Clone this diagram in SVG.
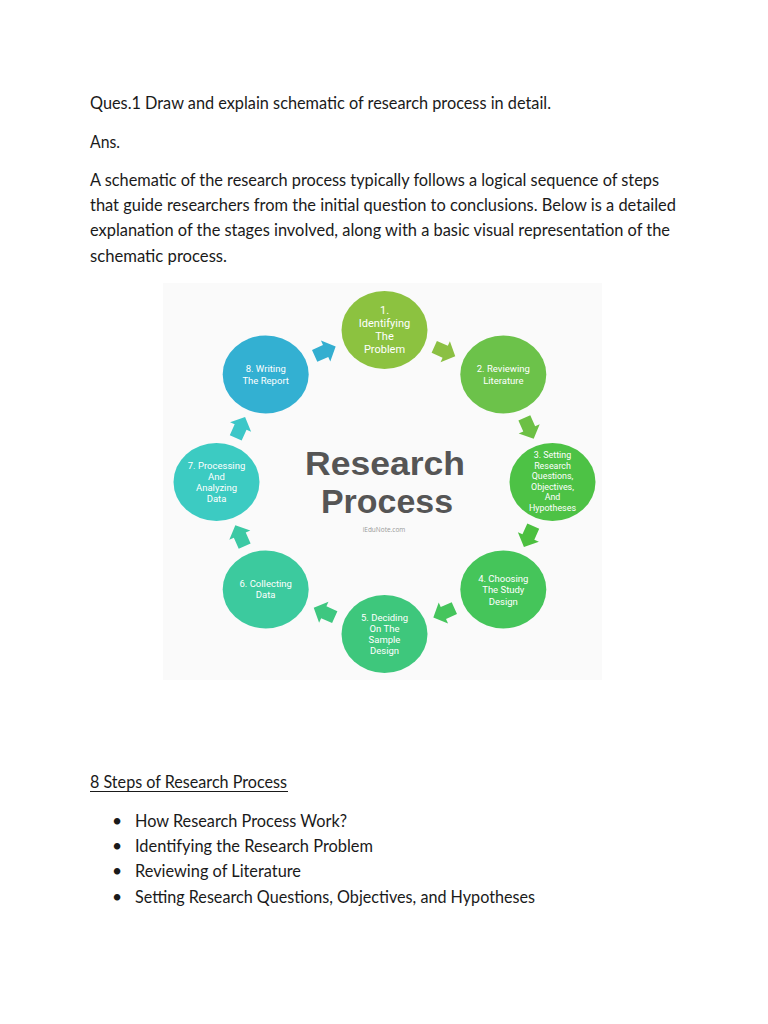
<svg xmlns="http://www.w3.org/2000/svg" width="768" height="1024" viewBox="0 0 768 1024">
<style>
.doc{font-family:Lato,"Open Sans","Liberation Sans",sans-serif;font-size:17.5px;fill:#1a1a1a}
.lbl{font-family:Roboto,"Liberation Sans",sans-serif;fill:#ffffff;text-anchor:middle}
.title{font-family:"Liberation Sans",Arial,sans-serif;font-weight:bold;font-size:33.5px;fill:#555555;text-anchor:middle}
</style>
<defs>
<polygon id="arr" points="-11,-6.5 1,-6.5 1,-11.5 12,0 1,11.5 1,6.5 -11,6.5"/>
</defs>
<rect width="768" height="1024" fill="#ffffff"/>

<g id="text-top" class="doc">
<text x="90" y="109" textLength="461" lengthAdjust="spacingAndGlyphs">Ques.1 Draw and explain schematic of research process in detail.</text>
<text x="90" y="148" textLength="30" lengthAdjust="spacingAndGlyphs">Ans.</text>
<text x="90" y="186" textLength="569" lengthAdjust="spacingAndGlyphs">A schematic of the research process typically follows a logical sequence of steps</text>
<text x="90" y="211" textLength="586" lengthAdjust="spacingAndGlyphs">that guide researchers from the initial question to conclusions. Below is a detailed</text>
<text x="90" y="236" textLength="580" lengthAdjust="spacingAndGlyphs">explanation of the stages involved, along with a basic visual representation of the</text>
<text x="90" y="262" textLength="137" lengthAdjust="spacingAndGlyphs">schematic process.</text>
</g>

<rect x="163" y="283" width="439" height="397" fill="#fafafa"/>

<g id="center-title">
<text class="title" x="385" y="475" textLength="160" lengthAdjust="spacingAndGlyphs">Research</text>
<text class="title" x="387" y="513" textLength="132" lengthAdjust="spacingAndGlyphs">Process</text>
<text x="384" y="532" font-family="'Open Sans','Liberation Sans',sans-serif" font-size="6.5" fill="#999999" text-anchor="middle">iEduNote.com</text>
</g>

<g id="connectors">
<use href="#arr" fill="#33aed0" transform="translate(324.7,351.4) rotate(-24)"/>
<use href="#arr" fill="#8bc043" transform="translate(444.3,351.4) rotate(24)"/>
<use href="#arr" fill="#6cc044" transform="translate(528.8,427.9) rotate(66)"/>
<use href="#arr" fill="#4cc040" transform="translate(528.8,536.1) rotate(114)"/>
<use href="#arr" fill="#45c55c" transform="translate(444.3,612.6) rotate(156)"/>
<use href="#arr" fill="#3ec780" transform="translate(324.7,612.6) rotate(204)"/>
<use href="#arr" fill="#3cc9a4" transform="translate(240.2,536.1) rotate(246)"/>
<use href="#arr" fill="#3cc7c8" transform="translate(240.2,427.9) rotate(294)"/>
</g>

<g id="node1">
<ellipse cx="384.5" cy="330" rx="43" ry="39" fill="#8cc240"/>
<text class="lbl" font-size="11"><tspan x="384.5" y="314">1.</tspan><tspan x="384.5" y="327">Identifying</tspan><tspan x="384.5" y="340">The</tspan><tspan x="384.5" y="353">Problem</tspan></text>
</g>
<g id="node2">
<ellipse cx="503.3" cy="374.5" rx="43" ry="39" fill="#6cc24a"/>
<text class="lbl" font-size="9.5"><tspan x="503.3" y="372.3">2. Reviewing</tspan><tspan x="503.3" y="383.5">Literature</tspan></text>
</g>
<g id="node3">
<ellipse cx="552.5" cy="482" rx="43" ry="39" fill="#4dc245"/>
<text class="lbl" font-size="8.9"><tspan x="552.5" y="458">3. Setting</tspan><tspan x="552.5" y="468.6">Research</tspan><tspan x="552.5" y="479.2">Questions,</tspan><tspan x="552.5" y="489.8">Objectives,</tspan><tspan x="552.5" y="500.4">And</tspan><tspan x="552.5" y="511">Hypotheses</tspan></text>
</g>
<g id="node4">
<ellipse cx="503.3" cy="589.5" rx="43" ry="39" fill="#45c55a"/>
<text class="lbl" font-size="9.5"><tspan x="503.3" y="582.1">4. Choosing</tspan><tspan x="503.3" y="593.3">The Study</tspan><tspan x="503.3" y="604.5">Design</tspan></text>
</g>
<g id="node5">
<ellipse cx="384.5" cy="634" rx="43" ry="39" fill="#3ec77c"/>
<text class="lbl" font-size="9.5"><tspan x="384.5" y="620.5">5. Deciding</tspan><tspan x="384.5" y="631.7">On The</tspan><tspan x="384.5" y="642.9">Sample</tspan><tspan x="384.5" y="654.1">Design</tspan></text>
</g>
<g id="node6">
<ellipse cx="265.7" cy="589.5" rx="43" ry="39" fill="#3cca9e"/>
<text class="lbl" font-size="9.5"><tspan x="265.7" y="587.2">6. Collecting</tspan><tspan x="265.7" y="598.4">Data</tspan></text>
</g>
<g id="node7">
<ellipse cx="216.5" cy="482" rx="43" ry="39" fill="#3ccbc2"/>
<text class="lbl" font-size="9.5"><tspan x="216.5" y="468.7">7. Processing</tspan><tspan x="216.5" y="479.9">And</tspan><tspan x="216.5" y="491.1">Analyzing</tspan><tspan x="216.5" y="502.3">Data</tspan></text>
</g>
<g id="node8">
<ellipse cx="265.7" cy="374.5" rx="43" ry="39" fill="#33b0d2"/>
<text class="lbl" font-size="9.5"><tspan x="265.7" y="372.3">8. Writing</tspan><tspan x="265.7" y="383.5">The Report</tspan></text>
</g>

<g id="text-bottom" class="doc">
<text x="90" y="788" textLength="197" lengthAdjust="spacingAndGlyphs">8 Steps of Research Process</text>
<line x1="90" y1="791.5" x2="288" y2="791.5" stroke="#1a1a1a" stroke-width="1"/>
<text x="117" y="827" text-anchor="middle">•</text>
<text x="135" y="827" textLength="212" lengthAdjust="spacingAndGlyphs">How Research Process Work?</text>
<text x="117" y="852" text-anchor="middle">•</text>
<text x="135" y="852" textLength="238" lengthAdjust="spacingAndGlyphs">Identifying the Research Problem</text>
<text x="117" y="877" text-anchor="middle">•</text>
<text x="135" y="877" textLength="166" lengthAdjust="spacingAndGlyphs">Reviewing of Literature</text>
<text x="117" y="903" text-anchor="middle">•</text>
<text x="135" y="903" textLength="400" lengthAdjust="spacingAndGlyphs">Setting Research Questions, Objectives, and Hypotheses</text>
</g>
</svg>
